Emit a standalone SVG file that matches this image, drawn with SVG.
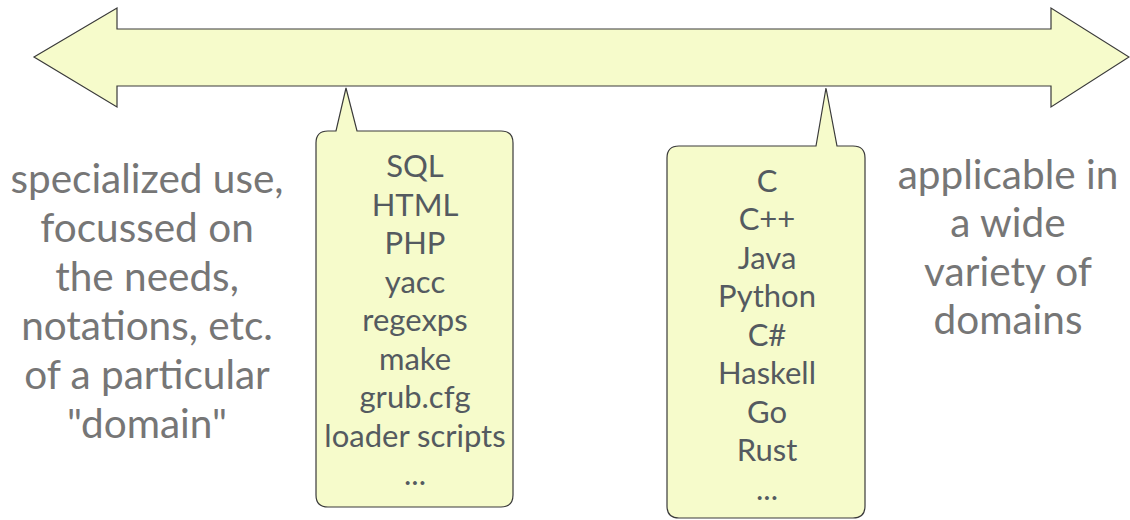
<svg xmlns="http://www.w3.org/2000/svg" width="1130" height="520" viewBox="0 0 1130 520">
  <style>
    .shape { fill: #f6fbcb; stroke: #3a3a3a; stroke-width: 1.2; stroke-linejoin: miter; }
    .side { font-family: Lato, "Open Sans", "DejaVu Sans", sans-serif; font-size: 40.5px; fill: #767676; text-anchor: middle; }
    .item { font-family: Lato, "Open Sans", "DejaVu Sans", sans-serif; font-size: 31px; fill: #545a60; text-anchor: middle; }
  </style>

  <!-- double-headed spectrum arrow -->
  <g id="spectrum-arrow">
    <polygon class="shape" points="34,57 117,8 117,29 1051,29 1051,8 1129,57 1051,107 1051,86 117,86 117,107"/>
  </g>

  <!-- left side caption -->
  <g id="label-specialized">
    <text class="side" x="147" y="193">specialized use,</text>
    <text class="side" x="147" y="242">focussed on</text>
    <text class="side" x="147" y="291">the needs,</text>
    <text class="side" x="147" y="340">notations, etc.</text>
    <text class="side" x="147" y="389">of a particular</text>
    <text class="side" x="147" y="438">"domain"</text>
  </g>

  <!-- right side caption -->
  <g id="label-general">
    <text class="side" x="1008" y="189">applicable in</text>
    <text class="side" x="1008" y="237">a wide</text>
    <text class="side" x="1008" y="286">variety of</text>
    <text class="side" x="1008" y="334">domains</text>
  </g>

  <!-- callout: domain-specific languages -->
  <g id="callout-dsl">
    <path class="shape" d="M328,131 L336,131 L346,88 L357,131 L501,131 Q513,131 513,143 L513,495 Q513,507 501,507 L328,507 Q316,507 316,495 L316,143 Q316,131 328,131 Z"/>
    <text class="item" x="415" y="177">SQL</text>
    <text class="item" x="415" y="215.5">HTML</text>
    <text class="item" x="415" y="254">PHP</text>
    <text class="item" x="415" y="292.5">yacc</text>
    <text class="item" x="415" y="331">regexps</text>
    <text class="item" x="415" y="369.5">make</text>
    <text class="item" x="415" y="408">grub.cfg</text>
    <text class="item" x="415" y="446.5">loader scripts</text>
    <text class="item" x="415" y="485">...</text>
  </g>

  <!-- callout: general-purpose languages -->
  <g id="callout-gpl">
    <path class="shape" d="M679,146 L816,146 L826,88 L837,146 L853,146 Q865,146 865,158 L865,506 Q865,518 853,518 L679,518 Q667,518 667,506 L667,158 Q667,146 679,146 Z"/>
    <text class="item" x="767" y="191.5">C</text>
    <text class="item" x="767" y="230">C++</text>
    <text class="item" x="767" y="268.5">Java</text>
    <text class="item" x="767" y="307">Python</text>
    <text class="item" x="767" y="345.5">C#</text>
    <text class="item" x="767" y="384">Haskell</text>
    <text class="item" x="767" y="422.5">Go</text>
    <text class="item" x="767" y="461">Rust</text>
    <text class="item" x="767" y="499.5">...</text>
  </g>
</svg>
